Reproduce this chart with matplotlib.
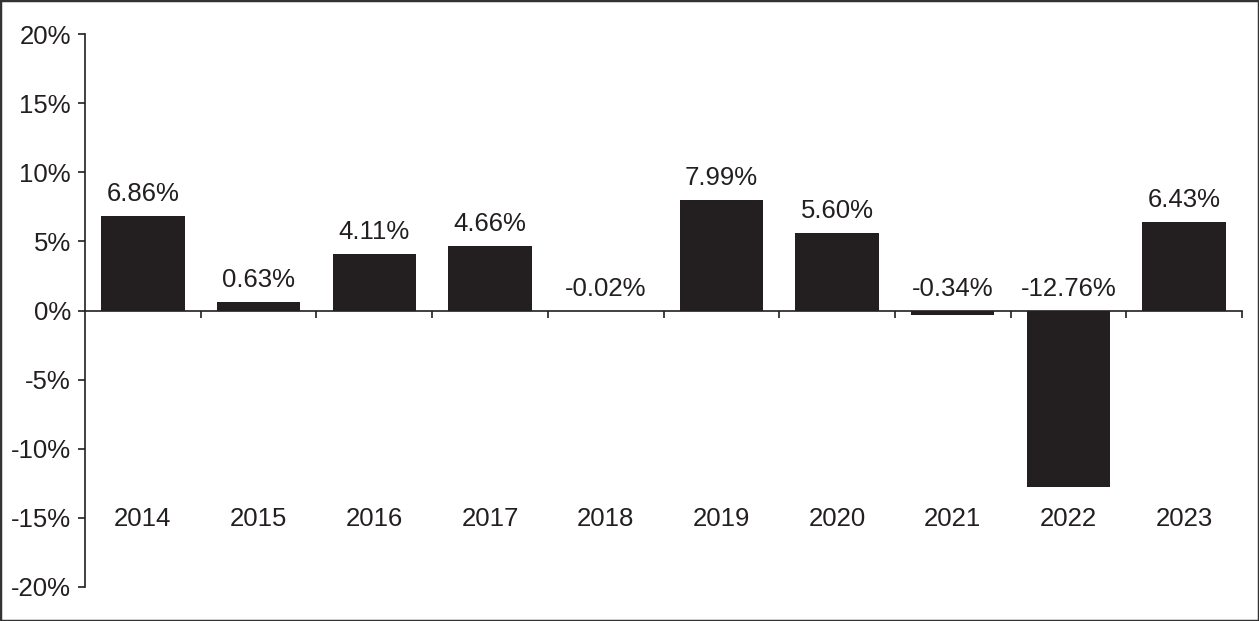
import numpy as np
import matplotlib.pyplot as plt
from matplotlib.patches import Rectangle

years = ["2014", "2015", "2016", "2017", "2018", "2019", "2020", "2021", "2022", "2023"]
returns = [6.86, 0.63, 4.11, 4.66, -0.02, 7.99, 5.60, -0.34, -12.76, 6.43]
labels = ["6.86%", "0.63%", "4.11%", "4.66%", "-0.02%", "7.99%", "5.60%", "-0.34%", "-12.76%", "6.43%"]
yticks = [-20, -15, -10, -5, 0, 5, 10, 15, 20]

ink = "#231f20"
fs = 18.5
plt.rcParams['font.family'] = ['Liberation Sans', 'DejaVu Sans']

fig = plt.figure(figsize=(12.59, 6.21), dpi=100)
ax = fig.add_axes([85/1259, 1 - 587/621, (1242-85)/1259, (587-34)/621])

x = np.arange(len(years))
ax.bar(x, returns, width=0.72, color=ink, zorder=2)

for xi, v, lab in zip(x, returns, labels):
    # value labels sit above the bar, or above zero for negative years
    ax.annotate(lab, (xi, max(v, 0)), xytext=(0, 7), textcoords="offset points",
                ha="center", va="bottom", fontsize=fs, color=ink)
    ax.text(xi, -15.1, years[xi], ha="center", va="center", fontsize=fs, color=ink)

ax.set_xlim(-0.5, len(years) - 0.5)
ax.set_ylim(-20, 20)
ax.set_yticks(yticks)
ax.set_yticklabels([f"{t}%" for t in yticks], fontsize=fs, color=ink)
ax.tick_params(axis="y", direction="out", length=5, width=1.2, color=ink, pad=5)

ax.spines['bottom'].set_position(('data', 0))
ax.spines['bottom'].set_color(ink)
ax.spines['bottom'].set_linewidth(1.2)
ax.spines['left'].set_color(ink)
ax.spines['left'].set_linewidth(1.2)
ax.spines['top'].set_visible(False)
ax.spines['right'].set_visible(False)
ax.set_xticks(np.arange(0.5, len(years) - 0.4, 1.0))
ax.set_xticklabels([])
ax.tick_params(axis="x", direction="out", length=5, width=1.2, color=ink)

fig.patches.append(Rectangle((0, 0), 1, 1, transform=fig.transFigure, fill=False,
                             edgecolor="#333333", linewidth=2.5))

fig.savefig("out.png", dpi=100)
